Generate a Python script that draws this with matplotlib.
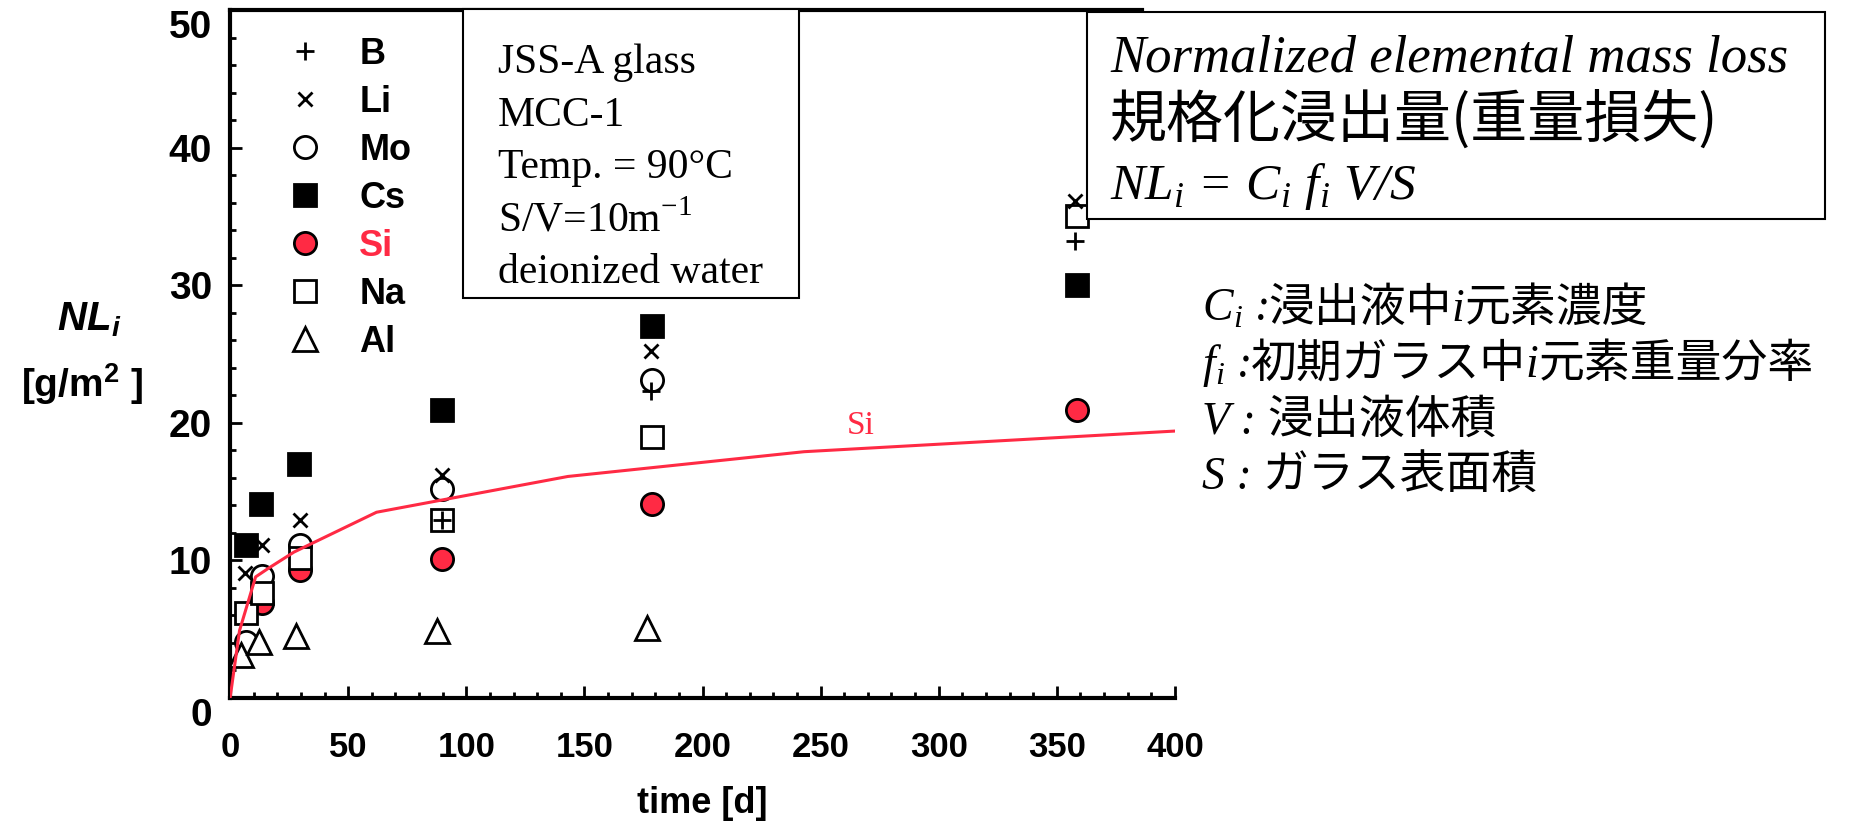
## Normalized elemental mass loss of JSS-A glass (MCC-1, 90 C) ##
import matplotlib
matplotlib.use('Agg')
import matplotlib.pyplot as plt
from matplotlib.patches import Rectangle

RED = '#ff2a44'

## values (time [d], NL_i [g/m2])
days_B = [89.6, 178, 357.7]
nl_B = [12.9, 22.3, 33.2]
days_Li = [6.2, 13.7, 29.6, 89.6, 178, 357.7]
nl_Li = [9.1, 11.1, 12.9, 16.2, 25.2, 36.1]
days_Mo = [6.6, 13.7, 29.6, 89.6, 178.5]
nl_Mo = [4.1, 8.9, 11.1, 15.2, 23.1]
days_Cs = [6.6, 13.3, 29.0, 89.6, 178.5, 358.5]
nl_Cs = [11.1, 14.1, 17.0, 20.9, 27.0, 30.0]
days_Si = [13.7, 29.6, 89.6, 178.5, 358.5]
nl_Si = [6.9, 9.3, 10.1, 14.1, 20.9]
days_Na = [6.6, 13.7, 29.6, 89.6, 178.5, 358.5]
nl_Na = [6.2, 7.6, 10.2, 12.9, 19.0, 35.0]
days_Al = [4.7, 12.3, 27.8, 87.7, 176.4]
nl_Al = [3.1, 4.1, 4.5, 4.9, 5.1]

## Si curve
fit_days = [0, 4, 10.8, 16, 27, 62, 143, 243, 400]
fit_si = [0, 4.9, 8.8, 9.4, 10.6, 13.5, 16.1, 17.9, 19.4]

cond_lines = ['JSS-A glass', 'MCC-1', 'Temp. = 90°C', 'S/V=10m$^\\mathdefault{-1}$', 'deionized water']

fig = plt.figure(figsize=(18.57, 8.23), dpi=100)
ax = fig.add_axes([0.1239, 0.1519, 0.5088, 0.8359])

mk = dict(ls='none', mew=2, zorder=3)
hCs, = ax.plot(days_Cs, nl_Cs, marker='s', ms=16.5, mfc='k', mec='k', label='Cs', **mk)
hMo, = ax.plot(days_Mo, nl_Mo, marker='o', ms=16, mfc='white', mec='k', label='Mo', **mk)
hSi, = ax.plot(days_Si, nl_Si, marker='o', ms=16, mfc=RED, mec='k', label='Si', **mk)
hNa, = ax.plot(days_Na, nl_Na, marker='s', ms=16, mfc='white', mec='k', label='Na', **mk)
hB, = ax.plot(days_B, nl_B, marker='+', ms=13, mec='k', label='B', **mk)
hLi, = ax.plot(days_Li, nl_Li, marker='x', ms=10, mec='k', label='Li', **mk)
hAl, = ax.plot(days_Al, nl_Al, marker='^', ms=17, mfc='white', mec='k', label='Al', **mk)

ax.plot(fit_days, fit_si, color=RED, lw=2.2, zorder=4)
ax.text(267, 19.8, 'Si', color=RED, family='Liberation Serif', fontsize=24, ha='center', va='center')

ax.set_xlim(0, 400)
ax.set_ylim(0, 50)
ax.set_xticks(range(0, 401, 50))
ax.set_xticks(range(0, 401, 10), minor=True)
ax.set_yticks(range(0, 51, 10))
ax.set_yticks(range(0, 51, 2), minor=True)
ax.tick_params(which='major', direction='in', length=8.5, width=2)
ax.tick_params(which='minor', direction='in', length=4.5, width=2)
ax.tick_params(axis='y', pad=13)
ax.tick_params(axis='x', pad=24)
ylabs = ax.get_yticklabels()
for lab in ylabs:
    lab.set_fontfamily('Liberation Sans')
    lab.set_fontweight('bold')
    lab.set_fontsize(28)
## end labels sit inside the axis range, as in the original
ylabs[-1].set_va('top')
ylabs[0].set_va('top')
for lab in ax.get_xticklabels():
    lab.set_fontfamily('Liberation Sans')
    lab.set_fontweight('bold')
    lab.set_fontsize(25)

ax.spines['right'].set_visible(False)
for s in ['left', 'bottom', 'top']:
    ax.spines[s].set_linewidth(3)
ax.spines['top'].set_bounds(0, 386)

fig.text(0.378, 0.024, 'time [d]', family='Liberation Sans',
         fontweight='bold', fontsize=26, ha='center', va='center')
fig.text(89/1857, 1-320/823, 'NL$_\\mathdefault{i}$', family='Liberation Sans', fontweight='bold',
         fontstyle='italic', fontsize=29, ha='center', va='center')
fig.text(82/1857, 1-384/823, '[g/m$^\\mathdefault{2}$ ]', family='Liberation Sans', fontweight='bold',
         fontsize=28, ha='center', va='center')

leg = ax.legend(handles=[hB, hLi, hMo, hCs, hSi, hNa, hAl], loc='upper left',
                bbox_to_anchor=(288/1857, 1-37/823), bbox_transform=fig.transFigure,
                frameon=False, borderpad=0, borderaxespad=0, numpoints=1,
                handlelength=0.92, handletextpad=1.05, labelspacing=0.36,
                prop=dict(family='Liberation Sans', weight='bold', size=26))
leg.get_texts()[4].set_color(RED)

## condition box
fig.add_artist(Rectangle((463/1857, 1-298/823), 336/1857, 288.5/823, transform=fig.transFigure,
                         fc='white', ec='k', lw=1.5, zorder=5))
for i, s in enumerate(cond_lines):
    fig.text(498/1857, 1-(63+52.5*i)/823, s, family='Liberation Serif', fontsize=30,
             va='center', ha='left', zorder=6)

## definition box
fig.add_artist(Rectangle((1087/1857, 1-219/823), 738/1857, 207/823, transform=fig.transFigure,
                         fc='white', ec='k', lw=1.5, zorder=5))
serif_it = dict(family='Liberation Serif', fontstyle='italic')
cjk = dict(family=['Noto Sans CJK JP', 'DejaVu Sans'])
fig.text(1110/1857, 1-58/823, 'Normalized elemental mass loss', fontsize=38, va='center', zorder=6, **serif_it)
fig.text(1110/1857, 1-120/823, '規格化浸出量(重量損失)', fontsize=41, va='center', zorder=6, **cjk)
fig.text(1110/1857, 1-186/823, 'NL$_\\mathdefault{i}$ = C$_\\mathdefault{i}$ f$_\\mathdefault{i}$ V/S',
         fontsize=37, va='center', zorder=6, **serif_it)

## symbol definitions, pieces placed one after another on a common baseline
def chain(x, y, parts, size):
    r = fig.canvas.get_renderer()
    for s, kw in parts:
        t = fig.text(x, y, s, va='baseline', ha='left', fontsize=size, **kw)
        bb = t.get_window_extent(r)
        x = fig.transFigure.inverted().transform((bb.x1, bb.y0))[0]

defs = [
    [('C$_\\mathdefault{i}$ :', serif_it), ('浸出液中', cjk), ('i', serif_it), ('元素濃度', cjk)],
    [('f$_\\mathdefault{i}$ :', serif_it), ('初期ガラス中', cjk), ('i', serif_it), ('元素重量分率', cjk)],
    [('V : ', serif_it), ('浸出液体積', cjk)],
    [('S : ', serif_it), ('ガラス表面積', cjk)],
]
for k, parts in enumerate(defs):
    chain(1202/1857, 1-(321+56*k)/823, parts, 33)

fig.savefig('out.png', dpi=100)
